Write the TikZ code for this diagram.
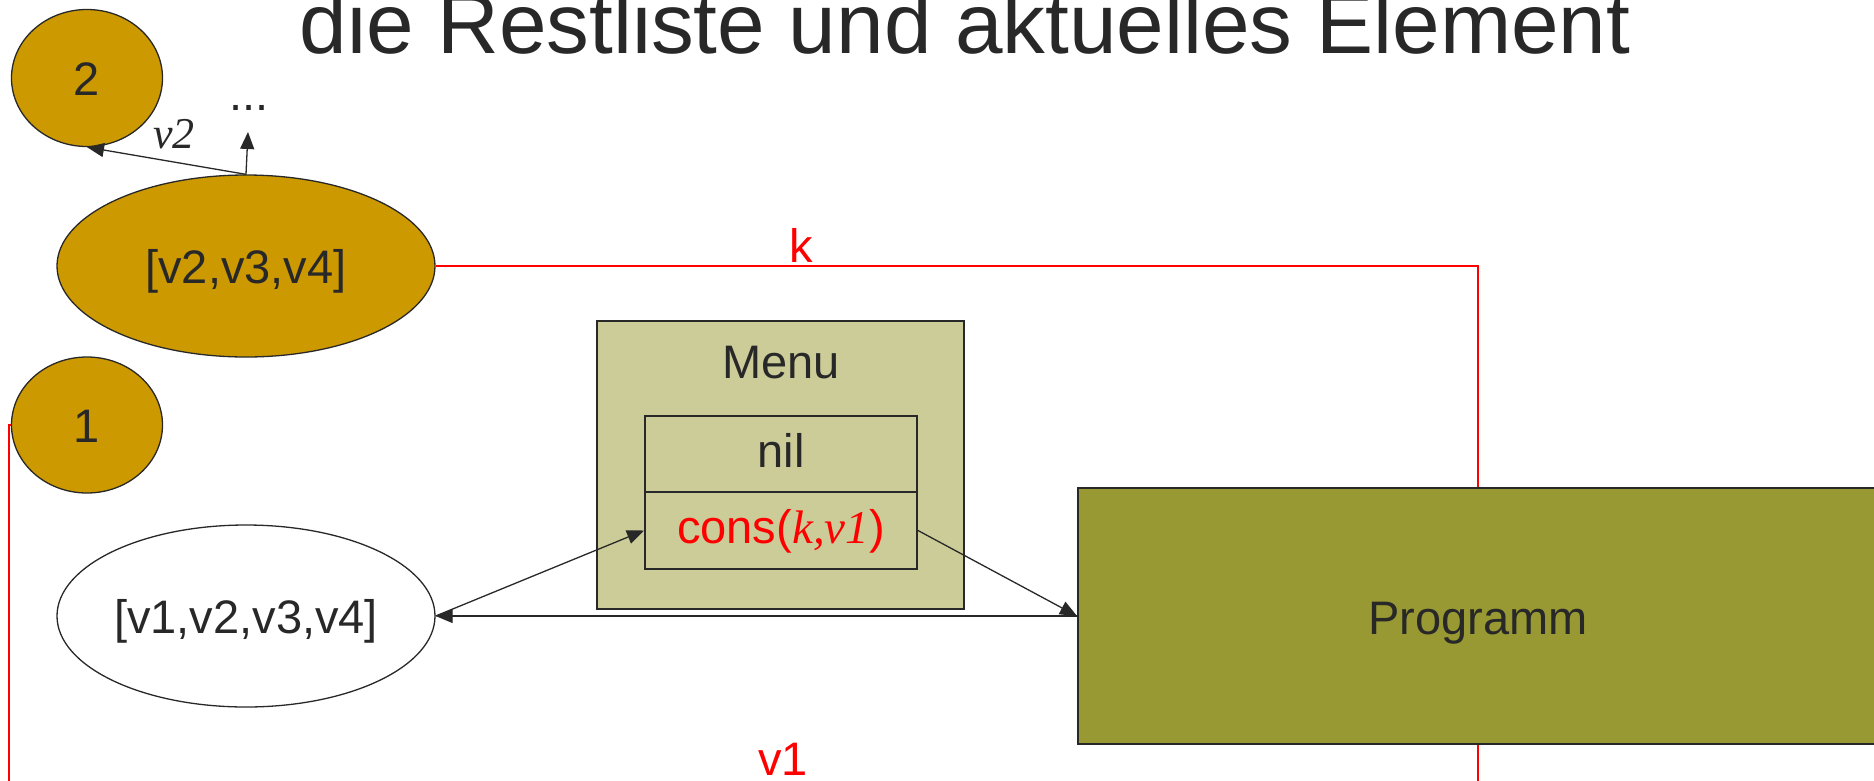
\documentclass[tikz,border=0pt]{standalone}
\usepackage{fontspec}
\setmainfont{Liberation Sans}
\newfontfamily\tms{Liberation Serif}
\usetikzlibrary{arrows.meta,shapes.geometric,calc}

\definecolor{gold}{RGB}{204,153,0}
\definecolor{menubg}{RGB}{204,204,153}
\definecolor{progbg}{RGB}{153,153,51}
\definecolor{ink}{RGB}{40,40,40}

\begin{document}
\begin{tikzpicture}[x=1pt,y=-1pt,
  txt/.style={font=\fontsize{47}{56}\selectfont, text=ink},
  blob/.style={ellipse, draw=ink, line width=1.3pt, inner sep=0pt, txt,
    text height=35pt, text depth=0pt},
  cell/.style={rectangle, draw=ink, line width=2pt, inner sep=0pt, txt,
    text height=26pt, text depth=0pt},
  flow/.style={draw=ink, line width=1.3pt, -{Triangle[length=17pt,width=14pt]}},
  wireline/.style={draw=red, line width=1.3pt},
  redlabel/.style={txt, text=red, anchor=base, inner sep=0pt},
]
\useasboundingbox (0,0) rectangle (1874,780);

% heading
\node[font=\fontsize{85.5}{100}\selectfont, text=ink, anchor=base, inner sep=0pt]
  (title) at (965,53) {die Restliste und aktuelles Element};

% list states and elements
\node[blob, fill=gold, minimum width=151pt, minimum height=137pt] (two) at (87,78) {2};
\node[blob, fill=gold, minimum width=378pt, minimum height=182pt] (rest) at (246,266) {[v2,v3,v4]};
\node[blob, fill=gold, minimum width=151pt, minimum height=136pt] (one) at (87,425) {1};
\node[blob, fill=white, minimum width=378pt, minimum height=182pt] (full) at (246,616) {[v1,v2,v3,v4]};

% menu with its two entries
\node[cell, fill=menubg, minimum width=367pt, minimum height=288pt] (menu) at (780.5,465) {};
\node[txt, anchor=base, inner sep=0pt] (menutitle) at (781,378) {Menu};
\node[cell, minimum width=272pt, minimum height=76pt] (nil) at (781,454) {nil};
\node[cell, minimum width=272pt, minimum height=77pt] (cons) at (781,530.5)
  {\textcolor{red}{cons({\tms\itshape k,v1})}};

% program block
\node[rectangle, draw=ink, line width=2pt, fill=progbg, txt,
  text height=36pt, text depth=0pt,
  minimum width=800pt, minimum height=256pt] (prog) at (1478,616) {Programm};

% data wires
\draw[wireline] (rest.east) -| (prog.north);
\draw[wireline] (one.west) -- ++(-2,0) |- ([yshift=-60pt]prog.south) -- (prog.south);
\node[redlabel] (klabel) at (801,262) {k};
\node[redlabel] (vlabel) at (783,775) {v1};

% control flow
\draw[flow] (full.east) -- (cons.west);
\draw[flow] (cons.east) -- (prog.west);
\draw[flow] (prog.west) -- (full.east);

% recursion on the rest of the list
\coordinate (more) at (248,132);
\draw[flow] (rest.north) -- (two.south);
\draw[flow] (rest.north) -- (more);
\node[txt, anchor=base, inner sep=0pt] (dots) at (249,110) {...};
\node[font=\fontsize{44}{52}\selectfont\tms\itshape, text=ink, anchor=base, inner sep=0pt]
  (vtwo) at (174,148) {v2};
\end{tikzpicture}
\end{document}
